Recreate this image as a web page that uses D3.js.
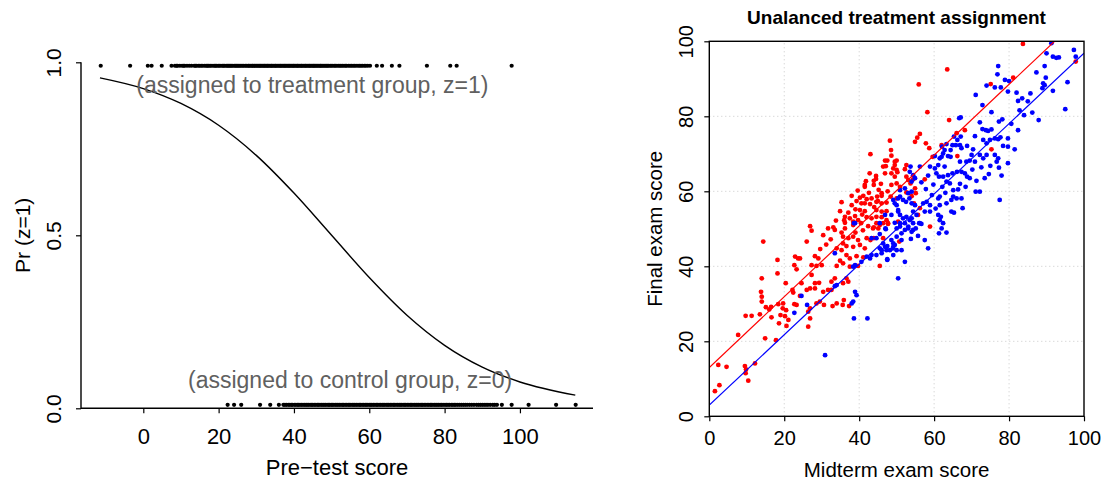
<!DOCTYPE html>
<html><head><meta charset="utf-8">
<script src="https://cdn.jsdelivr.net/npm/d3@7"></script>
<style>
html,body{margin:0;padding:0;background:#fff;}
text{font-family:"Liberation Sans",Arial,sans-serif;}
</style></head>
<body>
<svg id="chart" width="1102" height="481"></svg>
<script>
// ---------- Left panel data ----------
const preTestTreated = [-11.3,-3.5,1.2,2.2,4.9,7.5,8.4,8.8,9.1,9.7,10.3,10.7,11.0,11.6,12.2,12.8,13.5,13.8,14.1,14.6,15.0,15.4,15.8,16.3,16.7,17.0,17.3,17.7,18.0,18.5,18.9,19.2,19.5,19.9,20.2,20.6,21.0,21.3,21.6,22.0,22.3,22.6,22.9,23.2,23.5,23.8,24.2,24.5,24.8,25.1,25.4,25.7,26.0,26.4,26.7,27.1,27.4,27.8,28.0,28.3,28.6,28.9,29.1,29.4,29.7,30.0,30.3,30.6,30.9,31.1,31.4,31.7,32.0,32.2,32.5,32.8,33.0,33.3,33.6,33.9,34.1,34.4,34.7,35.0,35.2,35.5,35.8,36.1,36.4,36.6,36.9,37.2,37.5,37.7,38.0,38.3,38.6,38.8,39.1,39.4,39.7,39.9,40.2,40.5,40.8,41.0,41.3,41.6,41.9,42.1,42.4,42.7,43.0,43.2,43.5,43.8,44.1,44.3,44.6,44.9,45.2,45.4,45.7,46.0,46.3,46.6,46.9,47.1,47.4,47.7,48.0,48.3,48.6,48.9,49.2,49.6,49.9,50.3,50.7,51.0,51.4,51.8,52.2,52.5,52.9,53.3,53.7,54.0,54.5,54.9,55.3,55.7,56.1,56.5,57.0,57.4,57.8,58.2,58.7,59.1,59.6,60.2,62.0,63.4,66.0,68.0,75.3,81.5,83.2,97.8];
const preTestControl = [22.4,24.1,26.0,31.0,33.7,36.0,37.2,37.6,38.0,38.5,38.9,39.3,39.6,40.1,40.5,40.9,41.2,41.6,42.0,42.4,42.8,43.2,43.5,43.9,44.3,44.7,45.0,45.4,45.8,46.2,46.5,46.9,47.3,47.7,48.0,48.4,48.8,49.2,49.5,49.9,50.2,50.6,51.0,51.4,51.7,52.1,52.5,52.9,53.2,53.6,54.0,54.4,54.7,55.1,55.5,55.9,56.2,56.6,57.0,57.4,57.7,58.1,58.5,58.9,59.2,59.6,60.0,60.4,60.7,61.1,61.5,61.9,62.2,62.6,63.0,63.4,63.7,64.1,64.5,64.9,65.2,65.6,66.0,66.4,66.7,67.1,67.5,67.9,68.2,68.6,69.0,69.4,69.7,70.1,70.5,70.9,71.2,71.6,72.0,72.4,72.7,73.1,73.5,73.9,74.2,74.6,75.0,75.4,75.8,76.2,76.5,76.9,77.3,77.7,78.0,78.4,78.8,79.2,79.6,80.1,80.5,80.9,81.3,81.8,82.2,82.6,83.0,83.5,84.0,84.5,85.0,85.5,86.0,86.6,87.2,87.8,88.5,89.0,89.5,90.0,90.5,91.0,91.5,92.1,92.8,93.3,93.9,95.2,97.8,102.3,109.6,114.8];
const curveX = [-11.5,0,10,20,30,40,50,60,70,80,90,100,114.7];
const curveP = [0.955,0.924,0.881,0.818,0.731,0.622,0.5,0.378,0.269,0.182,0.119,0.076,0.038];
const leftXTicks = [0,20,40,60,80,100];
const leftYTicks = [0,0.5,1];
const leftYTickLabels = ["0.0","0.5","1.0"];
const treatLevel = 0.99, controlLevel = 0.01;

// ---------- Right panel data ----------
const treatedPoints = [
[48.2,73.5],[48.5,71.0],[48.6,69.5],[43.0,69.9],[46.9,68.2],[47.5,68.2],[50.0,68.2],[47.1,66.7],[49.5,67.0],[46.9,64.8],[48.6,64.8],[50.2,65.1],[44.5,64.1],[41.8,62.7],[43.9,62.8],[41.5,61.7],[48.6,61.7],[46.0,59.5],[40.2,58.3],[42.0,57.9],[43.3,58.1],[44.8,58.6],[48.4,58.6],[35.3,57.1],[38.0,56.3],[40.6,56.8],[41.5,56.8],[42.9,56.6],[44.6,57.2],[46.0,56.8],[47.3,57.0],[39.0,55.2],[40.2,55.0],[41.5,54.7],[44.6,55.0],[46.0,54.6],[47.3,54.7],[34.9,54.7],[37.1,54.3],[36.2,53.2],[37.5,52.8],[38.9,53.4],[39.7,52.3],[42.0,53.1],[43.3,52.8],[44.6,53.2],[46.0,53.1],[47.3,52.3],[36.2,51.6],[38.4,51.0],[40.5,51.5],[42.4,50.7],[43.9,50.4],[45.5,51.0],[31.7,50.1],[33.1,50.4],[33.5,49.7],[26.9,50.7],[27.3,49.5],[30.4,48.3],[35.3,49.0],[35.7,47.9],[37.1,47.5],[38.4,47.9],[39.7,47.0],[42.0,47.5],[43.0,47.0],[43.9,47.5],[26.0,46.6],[35.7,46.1],[36.6,45.4],[38.4,45.2],[40.2,45.7],[41.5,44.8],[34.0,44.8],[35.3,44.3],[36.6,43.0],[37.5,42.1],[39.3,42.7],[41.1,42.4],[28.2,42.7],[29.1,42.1],[24.2,42.1],[34.9,41.5],[35.7,40.8],[27.3,40.3],[28.6,40.1],[30.0,40.3],[34.0,40.1],[37.5,39.9],[39.7,40.1],
[45.1,50.1],[43.7,50.1],[36.2,50.1],[38.4,51.9],[44.6,51.5],[47.7,51.5],[36.0,52.3],[41.1,58.8],[46.0,58.8],[50.0,58.1],[39.3,57.4],[45.0,57.4],[38.0,58.8],[50.0,65.7],[49.5,63.9],[44.5,63.3],[50.0,62.1],[41.5,61.2],[43.9,61.7],[49.1,66.1],[46.4,66.6],[49.5,67.9],
[27.3,37.7],[20.4,35.5],[14.0,36.8],[18.2,38.1],[13.8,33.2],[14.0,31.9],[14.0,30.6],[22.2,33.7],[22.4,33.0],[24.2,32.1],[26.0,33.7],[26.9,34.1],[28.2,34.1],[30.4,33.2],[31.7,33.7],[32.6,33.7],[24.6,35.5],[28.2,35.5],[29.3,35.6],[19.7,30.1],[22.7,29.9],[23.3,29.7],[18.4,29.9],[15.1,29.1],[16.5,29.2],[16.0,28.5],[19.6,28.8],[20.5,28.3],[9.7,26.8],[11.3,26.8],[13.5,27.2],[16.6,26.4],[19.0,27.0],[20.2,26.7],[18.6,24.8],[20.6,24.1],[21.1,25.7],[26.4,27.9],[26.9,26.1],[26.4,23.9],[28.6,30.1],[29.5,30.6],[30.6,29.7],[26.9,28.8],[32.9,29.4],[34.0,30.1],[35.6,29.7],[35.9,31.0],[37.3,29.4],[7.7,21.7],[14.9,20.8],[17.8,20.3],[12.2,14.1],[9.5,13.4],[9.8,12.5],[9.7,11.5],[4.6,13.2],[2.4,13.7],[10.4,9.5],[2.7,8.3],[1.5,6.7],[35.7,35.5],[36.6,36.8],[37.1,35.9],[32.6,35.9],[33.5,36.8],[14.4,46.6],[18.2,41.7],[22.9,42.6],[23.7,42.1],[22.7,40.3],[23.3,39.2],
[83.7,99.3],[63.5,92.5],[55.9,88.5],[58.2,81.1],[64.0,79.0],[75.1,88.6],[81.1,90.3],[97.8,94.6],[68.2,76.3],[66.0,75.5],[56.2,75.3],[55.5,74.3],[54.9,73.2],[57.8,72.8],[58.7,71.5],[59.6,69.2],[62.0,72.3],[66.2,69.4],[75.3,71.2],[52.6,67.0],[52.2,65.9],[52.6,63.9],[53.1,63.0],[53.7,62.1],[50.9,61.2],[54.4,63.2],[54.9,60.8],[55.1,59.5],[54.6,56.8],[52.6,59.7],[54.0,58.7],[57.5,63.2],[56.2,55.5],[55.7,53.7],[58.9,50.6],
[46.4,47.5],[50.7,46.6],[45.5,40.1],[46.4,51.5],[47.7,51.3],[50.4,51.9],
[39.0,49.0],[41.0,49.6],[44.0,55.8],[42.6,59.6],[45.2,60.4],[47.6,60.0],[39.6,60.2],[45.8,62.0],[42.8,64.8],[40.8,53.8],[33.8,52.2],[32.4,47.2],[29.6,44.6],[31.2,45.8]
];
const controlPoints = [
[38.6,51.5],[47.0,50.1],[49.1,57.7],[49.5,56.8],[49.5,51.6],
[50.4,58.1],[50.0,56.3],[50.4,55.0],[46.9,53.7],[48.6,53.7],[38.9,51.5],[45.5,51.5],[47.1,49.9],[50.0,50.1],[50.9,51.5],[45.5,48.6],[44.6,47.5],[43.3,47.5],[46.4,46.1],[47.5,45.4],[49.1,45.2],[48.6,47.0],[50.0,47.9],[33.5,43.5],[45.5,44.8],[46.0,43.5],[44.6,43.0],[43.3,43.0],[42.0,42.6],[42.9,42.1],[47.5,41.9],[49.1,43.0],[50.0,44.3],[40.6,41.2],[38.9,40.3],[38.4,39.9],
[24.6,32.1],[22.7,27.6],[26.1,29.7],[30.9,16.3],[33.5,34.7],[38.9,33.2],[39.3,32.3],[38.4,30.6],[38.0,30.1],[38.6,26.1],[42.2,26.1],[34.0,35.0],
[91.3,99.5],[97.3,97.7],[97.8,95.9],[91.7,95.9],[92.6,95.6],[93.3,95.7],[90.0,96.8],[89.5,93.4],[87.3,91.7],[89.8,90.3],[89.1,88.8],[89.5,88.3],[88.9,87.5],[95.6,89.1],[91.7,86.8],[95.0,81.9],[85.7,86.1],[83.5,84.8],[82.4,84.1],[82.0,86.3],[78.9,89.7],[80.0,89.4],[77.1,93.4],[76.9,91.2],[74.0,88.2],[76.2,87.7],[77.8,87.7],[79.7,86.6],[71.1,85.7],[84.0,80.3],[86.2,81.0],[87.9,79.0],[82.4,76.3],[72.9,83.0],[75.3,81.1],[67.1,79.7],[66.7,79.5],[78.2,79.2],[77.3,78.6],[72.2,78.4],[72.9,76.6],[73.8,76.3],[74.4,76.1],[75.3,76.5],[70.9,74.7],[73.1,73.7],[74.0,72.8],[74.9,73.7],[76.2,74.1],[77.1,73.9],[77.7,74.4],[79.7,74.1],[78.4,72.1],[79.7,71.9],[81.5,71.2],[65.3,74.6],[66.2,73.7],[67.1,74.6],[65.8,72.3],[64.9,72.3],[63.3,72.6],[62.1,71.9],[62.8,71.0],[64.4,71.0],[68.8,72.1],[70.4,71.2],[70.0,69.7],[66.9,72.3],[67.3,71.5],[72.2,69.7],[73.1,68.8],[74.0,69.7],[76.2,69.7],[76.7,67.9],[77.1,68.8],[77.3,66.3],[79.7,67.5],[78.0,64.2],[62.4,70.1],[63.7,69.4],[64.4,69.2],[62.0,69.2],[61.5,68.8],[60.2,69.4],[56.2,66.6],[58.9,66.6],[60.2,66.1],[61.1,67.0],[62.8,66.6],[66.9,67.9],[68.6,67.9],[69.5,68.2],[70.9,67.9],[66.1,65.2],[67.3,65.2],[68.2,64.8],[68.8,63.9],[69.5,63.5],[60.6,64.8],[61.3,63.9],[62.4,63.9],[63.7,64.3],[64.9,64.8],[63.3,62.6],[64.2,62.1],[62.2,61.2],[66.9,62.0],[66.4,60.5],[71.3,62.8],[73.5,63.5],[53.7,66.6],[53.5,65.2],[54.4,64.3],[54.9,63.5],[54.0,62.6],[50.9,60.3],[52.2,60.8],[53.1,59.5],[54.0,59.9],[50.9,58.6],[51.7,57.7],[52.5,57.2],[53.4,58.1],[54.0,56.8],[54.9,56.3],[57.1,56.8],[58.0,57.2],[58.9,56.3],[61.5,56.3],[61.5,58.6],[61.1,58.1],[63.3,56.8],[64.6,57.7],[65.1,60.3],[65.1,58.6],[66.0,58.1],[67.3,58.1],[71.1,59.9],[72.2,59.9],[77.5,57.7],[67.6,55.5],[61.1,53.7],[61.8,53.2],[64.6,54.6],[65.3,54.3],[57.5,54.6],[58.9,54.6],[54.4,54.6],[55.3,53.7],[54.0,52.8],[50.4,54.6],[50.9,53.7],[51.7,52.8],[52.6,53.2],[53.5,52.3],[54.4,51.5],[52.2,51.5],[53.1,50.6],[50.9,50.6],[61.5,52.3],[62.4,51.5],[56.2,51.5],
[55.7,48.1],[57.5,47.0],[58.4,44.8],[53.8,47.3],[51.3,47.0],[51.3,44.3],[49.1,46.1],[49.5,45.7],[49.0,44.8],[48.2,44.3],[47.3,44.3],[46.0,44.3],[46.9,45.2],[47.5,41.7],[52.2,41.2],[50.4,36.8],[62.0,50.1],[61.3,48.8],[63.3,49.0],[56.0,51.5],[55.1,50.1],[56.6,51.3],[51.3,48.8],[52.2,49.7],[53.1,50.1],[54.0,49.2],[54.4,49.7],
[57.8,60.6],[59.8,61.8],[56.6,62.4],[58.4,64.2],[59.4,59.0],[60.4,55.4],[63.0,59.6],[68.4,61.2],[70.2,65.8],[72.6,66.4],[75.0,66.8],[74.6,64.6],[80.6,78.0],[82.8,81.6],[85.0,84.0]
];
const fitTreated = {intercept: 13.0, slope: 0.944};
const fitControl = {intercept: 3.0, slope: 0.938};
const rightTicks = [0,20,40,60,80,100];
const gridTicks = [20,40,60,80];

const svg = d3.select("#chart");

// ================= LEFT PANEL =================
const lx = d3.scaleLinear().domain([-16.54, 119.4]).range([81, 593]);
const ly = d3.scaleLinear().domain([0, 1]).range([408.3, 62.3]);
const L = svg.append("g");

L.append("path").attr("d", `M${lx.range()[0]},${ly(1)}V${ly(0)}H${lx.range()[1]}`)
  .attr("fill","none").attr("stroke","#000").attr("stroke-width",1.4);

const lxAxis = d3.axisBottom(lx).tickValues(leftXTicks).tickSize(5).tickPadding(15).tickFormat(d3.format("d"));
const gx = L.append("g").attr("transform",`translate(0,${ly(0)})`).call(lxAxis);
gx.select(".domain").remove();
gx.selectAll("line").attr("stroke","#000").attr("stroke-width",1.2);
gx.selectAll("text").attr("font-size",22).attr("fill","#000").attr("font-family","Liberation Sans, Arial, sans-serif");

const lyAxis = d3.axisLeft(ly).tickValues(leftYTicks).tickSize(5).tickFormat((d,i)=>leftYTickLabels[i]);
const gy = L.append("g").attr("transform",`translate(${lx.range()[0]},0)`).call(lyAxis);
gy.select(".domain").remove();
gy.selectAll("line").attr("stroke","#000").attr("stroke-width",1.2);
gy.selectAll("text").attr("font-size",21).attr("fill","#000")
  .attr("font-family","Liberation Sans, Arial, sans-serif")
  .attr("text-anchor","middle").attr("dy",null).attr("x",null)
  .attr("transform","translate(-20,0) rotate(-90)");

const curveData = curveX.map((x,i)=>[x,curveP[i]]);
L.append("path").datum(curveData)
  .attr("d", d3.line().x(d=>lx(d[0])).y(d=>ly(d[1])).curve(d3.curveMonotoneX))
  .attr("fill","none").attr("stroke","#000").attr("stroke-width",1.4);

L.selectAll("circle.t").data(preTestTreated).join("circle").attr("class","t")
  .attr("cx",d=>lx(d)).attr("cy",ly(treatLevel)).attr("r",2.1).attr("fill","#000");
L.selectAll("circle.c").data(preTestControl).join("circle").attr("class","c")
  .attr("cx",d=>lx(d)).attr("cy",ly(controlLevel)).attr("r",2.1).attr("fill","#000");

L.append("text").attr("x",lx(44.9)).attr("y",93).attr("text-anchor","middle")
  .attr("font-size",23).attr("fill","#606060").text("(assigned to treatment group, z=1)");
L.append("text").attr("x",lx(54.9)).attr("y",388).attr("text-anchor","middle")
  .attr("font-size",23).attr("fill","#606060").text("(assigned to control group, z=0)");

L.append("text").attr("x",(lx.range()[0]+lx.range()[1])/2).attr("y",475).attr("text-anchor","middle")
  .attr("font-size",22).attr("fill","#000").text("Pre\u2212test score");
L.append("text").attr("transform",`translate(30,${(ly(0)+ly(1))/2}) rotate(-90)`).attr("text-anchor","middle")
  .attr("font-size",21).attr("fill","#000").text("Pr (z=1)");

// ================= RIGHT PANEL =================
const rx = d3.scaleLinear().domain([0,100]).range([709.3,1084]);
const ry = d3.scaleLinear().domain([0,100]).range([416.3,41.3]);
const R = svg.append("g");

R.append("clipPath").attr("id","rclip").append("rect")
  .attr("x",rx(0)).attr("y",ry(100)).attr("width",rx(100)-rx(0)).attr("height",ry(0)-ry(100));

R.append("g").selectAll("line.gv").data(gridTicks).join("line")
  .attr("x1",d=>rx(d)).attr("x2",d=>rx(d)).attr("y1",ry(0)).attr("y2",ry(100))
  .attr("stroke","#c8c8c8").attr("stroke-width",1).attr("stroke-dasharray","1,3");
R.append("g").selectAll("line.gh").data(gridTicks).join("line")
  .attr("y1",d=>ry(d)).attr("y2",d=>ry(d)).attr("x1",rx(0)).attr("x2",rx(100))
  .attr("stroke","#c8c8c8").attr("stroke-width",1).attr("stroke-dasharray","1,3");

const pts = R.append("g").attr("clip-path","url(#rclip)");
pts.selectAll("circle.r").data(treatedPoints).join("circle").attr("class","r")
  .attr("cx",d=>rx(d[0])).attr("cy",d=>ry(d[1])).attr("r",2.4).attr("fill","#ff0000");
pts.selectAll("circle.b").data(controlPoints).join("circle").attr("class","b")
  .attr("cx",d=>rx(d[0])).attr("cy",d=>ry(d[1])).attr("r",2.4).attr("fill","#0000ff");

const fitLine = f => [[0, f.intercept],[100, f.intercept + 100*f.slope]];
pts.append("path").datum(fitLine(fitTreated))
  .attr("d", d3.line().x(d=>rx(d[0])).y(d=>ry(d[1]))).attr("stroke","#ff0000").attr("stroke-width",1.2).attr("fill","none");
pts.append("path").datum(fitLine(fitControl))
  .attr("d", d3.line().x(d=>rx(d[0])).y(d=>ry(d[1]))).attr("stroke","#0000ff").attr("stroke-width",1.2).attr("fill","none");

R.append("rect").attr("x",rx(0)).attr("y",ry(100)).attr("width",rx(100)-rx(0)).attr("height",ry(0)-ry(100))
  .attr("fill","none").attr("stroke","#000").attr("stroke-width",1.4);

const rxAxis = d3.axisBottom(rx).tickValues(rightTicks).tickSize(5).tickPadding(10).tickFormat(d3.format("d"));
const rgx = R.append("g").attr("transform",`translate(0,${ry(0)})`).call(rxAxis);
rgx.select(".domain").remove();
rgx.selectAll("line").attr("stroke","#000").attr("stroke-width",1.2);
rgx.selectAll("text").attr("font-size",20).attr("fill","#000").attr("font-family","Liberation Sans, Arial, sans-serif");

const ryAxis = d3.axisLeft(ry).tickValues(rightTicks).tickSize(5).tickFormat(d3.format("d"));
const rgy = R.append("g").attr("transform",`translate(${rx(0)},0)`).call(ryAxis);
rgy.select(".domain").remove();
rgy.selectAll("line").attr("stroke","#000").attr("stroke-width",1.2);
rgy.selectAll("text").attr("font-size",20).attr("fill","#000")
  .attr("font-family","Liberation Sans, Arial, sans-serif")
  .attr("text-anchor","middle").attr("dy",null).attr("x",null)
  .attr("transform","translate(-16,0) rotate(-90)");

R.append("text").attr("x",(rx(0)+rx(100))/2).attr("y",477).attr("text-anchor","middle")
  .attr("font-size",20.5).attr("fill","#000").text("Midterm exam score");
R.append("text").attr("transform",`translate(662,${(ry(0)+ry(100))/2}) rotate(-90)`).attr("text-anchor","middle")
  .attr("font-size",20.5).attr("fill","#000").text("Final exam score");
R.append("text").attr("x",896.5).attr("y",24).attr("text-anchor","middle")
  .attr("font-size",19).attr("font-weight","bold").attr("fill","#000").text("Unalanced treatment assignment");
</script>
</body></html>
